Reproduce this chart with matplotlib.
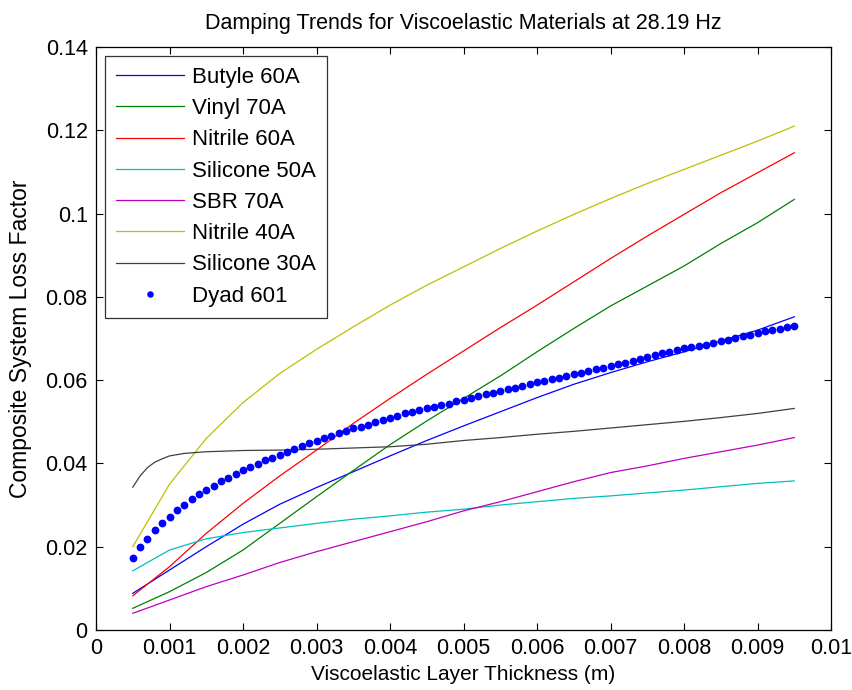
import numpy as np
import matplotlib
matplotlib.use("Agg")
import matplotlib.pyplot as plt

plt.rcParams['font.family'] = ['Liberation Sans', 'DejaVu Sans']

# thickness sweep (m) used for the material curves
thickness = [0.0005, 0.0010, 0.0015, 0.0020, 0.0025, 0.0030, 0.0035, 0.0040, 0.0045, 0.0050,
             0.0055, 0.0060, 0.0065, 0.0070, 0.0075, 0.0080, 0.0085, 0.0090, 0.0095]

butyle_60a = [0.0088, 0.0144, 0.0200, 0.0254, 0.0302, 0.0342, 0.0380, 0.0418, 0.0455, 0.0490,
              0.0524, 0.0558, 0.0590, 0.0618, 0.0644, 0.0668, 0.0694, 0.0720, 0.0752]
vinyl_70a = [0.0052, 0.0092, 0.0138, 0.0192, 0.0256, 0.0320, 0.0383, 0.0445, 0.0502, 0.0556,
             0.0610, 0.0668, 0.0724, 0.0778, 0.0826, 0.0874, 0.0928, 0.0978, 0.1034]
nitrile_60a = [0.0082, 0.0152, 0.0232, 0.0304, 0.0370, 0.0432, 0.0496, 0.0556, 0.0614, 0.0670,
               0.0726, 0.0780, 0.0836, 0.0892, 0.0946, 0.0998, 0.1050, 0.1098, 0.1146]
silicone_50a = [0.0142, 0.0192, 0.0219, 0.0234, 0.0245, 0.0256, 0.0266, 0.0274, 0.0283, 0.0290,
                0.0300, 0.0308, 0.0316, 0.0322, 0.0329, 0.0336, 0.0344, 0.0352, 0.0358]
sbr_70a = [0.0040, 0.0072, 0.0104, 0.0132, 0.0162, 0.0188, 0.0212, 0.0236, 0.0260, 0.0286,
           0.0308, 0.0332, 0.0356, 0.0378, 0.0394, 0.0412, 0.0428, 0.0444, 0.0462]
nitrile_40a = [0.0200, 0.0350, 0.0460, 0.0546, 0.0616, 0.0674, 0.0728, 0.0780, 0.0828, 0.0872,
               0.0916, 0.0958, 0.0998, 0.1036, 0.1072, 0.1106, 0.1140, 0.1174, 0.1210]

# Silicone 30A rises steeply at thin layers, so it is sampled finer there
thickness_s30 = [0.0005, 0.0006, 0.0007, 0.0008, 0.0009, 0.0010, 0.0012, 0.0015, 0.0020, 0.0025,
                 0.0030, 0.0035, 0.0040, 0.0045, 0.0050, 0.0055, 0.0060, 0.0065, 0.0070, 0.0075,
                 0.0080, 0.0085, 0.0090, 0.0095]
silicone_30a = [0.0343, 0.0370, 0.0390, 0.0403, 0.0411, 0.0418, 0.0424, 0.0428, 0.0431, 0.0432,
                0.0434, 0.0437, 0.0440, 0.0446, 0.0455, 0.0462, 0.0470, 0.0477, 0.0485, 0.0493,
                0.0501, 0.0510, 0.0520, 0.0532]

# Dyad 601, one point every 0.1 mm
thickness_dyad = np.linspace(0.0005, 0.0095, 91)
dyad_601 = [0.0174, 0.0199, 0.0219, 0.0240, 0.0257, 0.0272, 0.0288, 0.0301, 0.0314, 0.0326,
            0.0336, 0.0346, 0.0357, 0.0366, 0.0375, 0.0383, 0.0391, 0.0399, 0.0407, 0.0414,
            0.0421, 0.0428, 0.0435, 0.0441, 0.0448, 0.0455, 0.0461, 0.0467, 0.0473, 0.0479,
            0.0484, 0.0488, 0.0493, 0.0499, 0.0505, 0.0510, 0.0515, 0.0520, 0.0524, 0.0528,
            0.0532, 0.0536, 0.0540, 0.0543, 0.0549, 0.0553, 0.0558, 0.0562, 0.0566, 0.0570,
            0.0573, 0.0578, 0.0582, 0.0586, 0.0591, 0.0595, 0.0599, 0.0603, 0.0606, 0.0610,
            0.0614, 0.0618, 0.0622, 0.0626, 0.0630, 0.0634, 0.0638, 0.0642, 0.0647, 0.0651,
            0.0656, 0.0660, 0.0664, 0.0668, 0.0672, 0.0676, 0.0679, 0.0682, 0.0685, 0.0689,
            0.0693, 0.0697, 0.0701, 0.0705, 0.0709, 0.0713, 0.0717, 0.0720, 0.0723, 0.0727,
            0.0730]

fig = plt.figure(figsize=(8.52, 6.90), dpi=100)
ax = fig.add_axes([0.1127, 0.087, 0.8627, 0.8449])

lw = 0.9
ax.plot(thickness, butyle_60a, color=(0, 0, 1), lw=lw, label='Butyle 60A')
ax.plot(thickness, vinyl_70a, color=(0, 0.5, 0), lw=lw, label='Vinyl 70A')
ax.plot(thickness, nitrile_60a, color=(1, 0, 0), lw=lw, label='Nitrile 60A')
ax.plot(thickness, silicone_50a, color=(0, 0.75, 0.75), lw=lw, label='Silicone 50A')
ax.plot(thickness, sbr_70a, color=(0.75, 0, 0.75), lw=lw, label='SBR 70A')
ax.plot(thickness, nitrile_40a, color=(0.75, 0.75, 0), lw=lw, label='Nitrile 40A')
ax.plot(thickness_s30, silicone_30a, color=(0.25, 0.25, 0.25), lw=lw, label='Silicone 30A')
ax.plot(thickness_dyad, dyad_601, linestyle='none', marker='o', markersize=4.6,
        color=(0, 0, 1), label='Dyad 601')

ax.set_xlim(0, 0.01)
ax.set_ylim(0, 0.14)
ax.set_xticks(np.arange(0, 0.0101, 0.001))
ax.set_xticklabels(['0', '0.001', '0.002', '0.003', '0.004', '0.005',
                    '0.006', '0.007', '0.008', '0.009', '0.01'])
ax.set_yticks(np.arange(0, 0.141, 0.02))
ax.set_yticklabels(['0', '0.02', '0.04', '0.06', '0.08', '0.1', '0.12', '0.14'])
ax.tick_params(direction='in', top=True, right=True, length=5, width=0.8,
               labelsize=15.5, pad=6)
for s in ax.spines.values():
    s.set_linewidth(0.9)

ax.set_title('Damping Trends for Viscoelastic Materials at 28.19 Hz', fontsize=15.5, pad=13)
ax.set_xlabel('Viscoelastic Layer Thickness (m)', fontsize=15, labelpad=4)
ax.set_ylabel('Composite System Loss Factor', fontsize=16.5)
ax.yaxis.set_label_coords(-0.087, 0.5)

leg = ax.legend(loc='upper left', fontsize=16, frameon=True, fancybox=False,
                edgecolor='black', handlelength=3.06, handletextpad=0.35,
                markerscale=0.8, borderpad=0.5, labelspacing=0.46,
                borderaxespad=0.4)
leg.get_frame().set_linewidth(0.9)

fig.savefig('out.png', dpi=100, facecolor='white')
